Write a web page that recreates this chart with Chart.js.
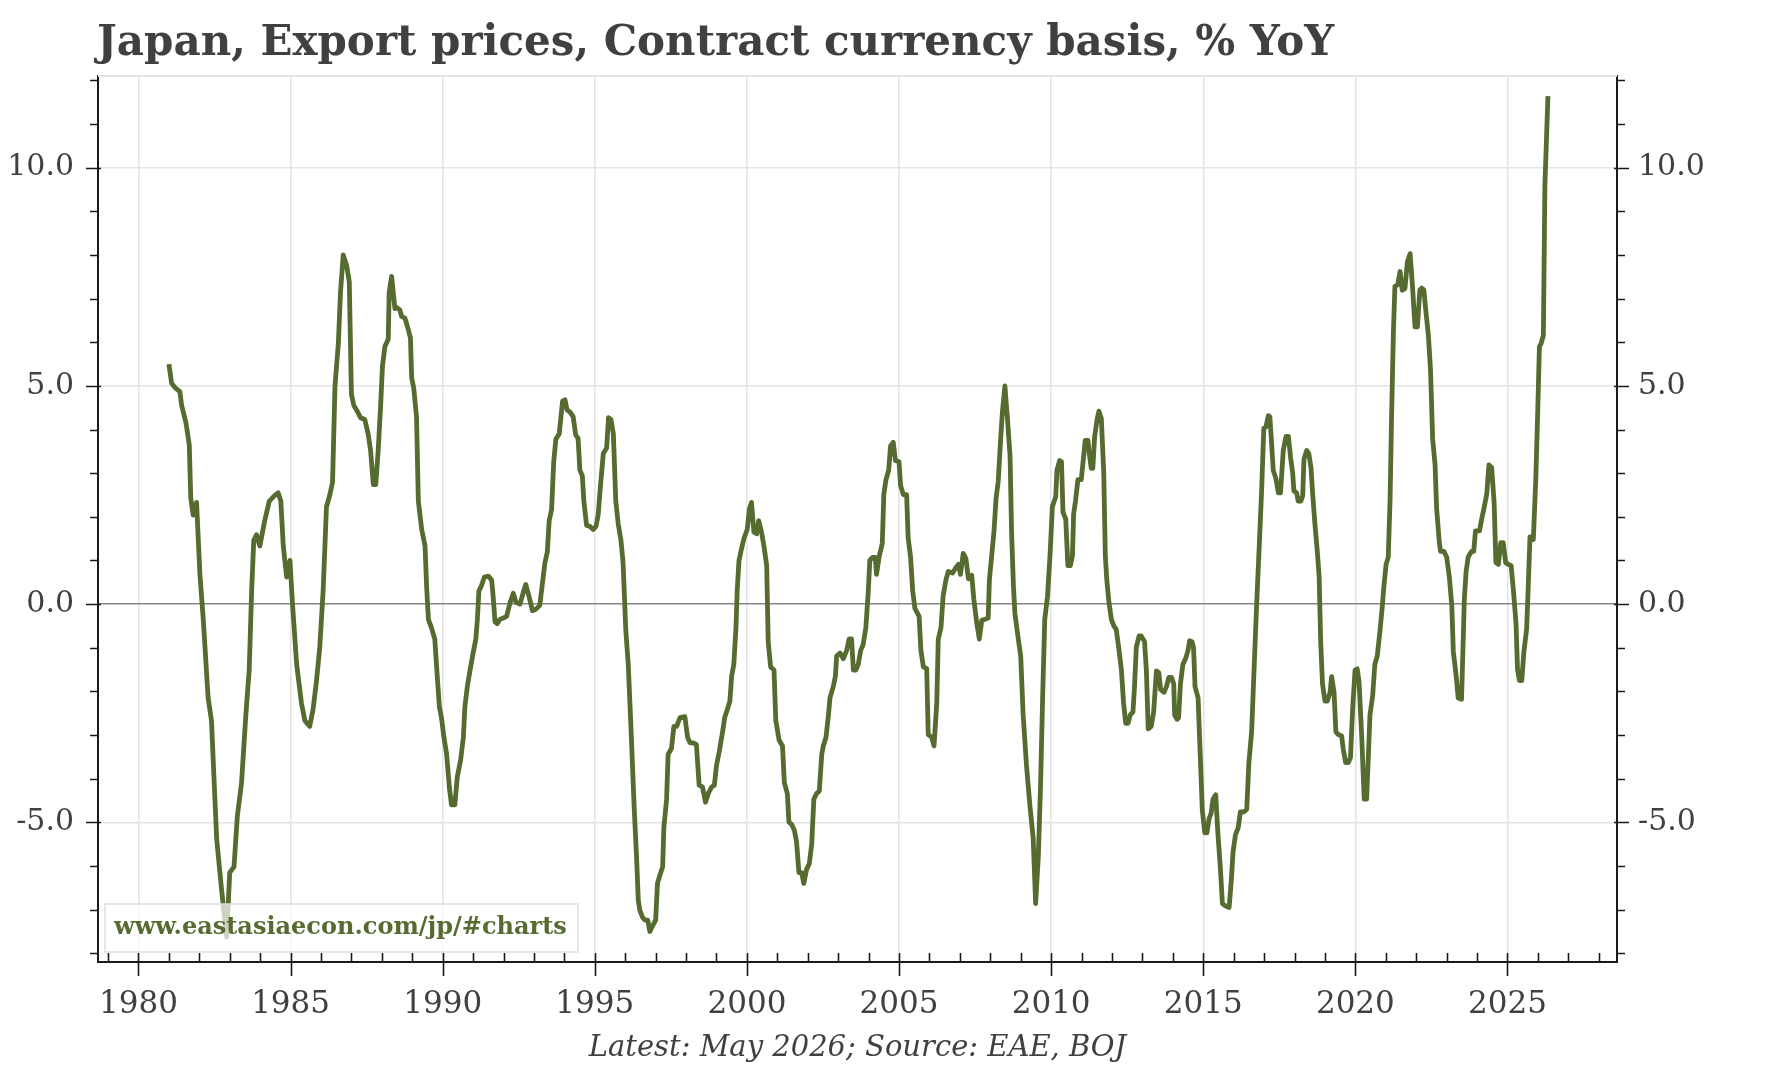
<!DOCTYPE html>
<html>
<head>
<meta charset="utf-8">
<title>Japan, Export prices, Contract currency basis, % YoY</title>
<script src="https://cdn.jsdelivr.net/npm/chart.js@4.4.1/dist/chart.umd.min.js"></script>
<style>
  html, body { margin: 0; padding: 0; background: #fff; overflow: hidden; }
  #wrap { width: 1767px; height: 1070px; position: relative; }
</style>
</head>
<body>
<div id="wrap"><canvas id="chart"></canvas></div>
<script>
'use strict';
var titleText = 'Japan, Export prices, Contract currency basis, % YoY';
var captionText = 'Latest: May 2026; Source: EAE, BOJ';
var watermarkText = 'www.eastasiaecon.com/jp/#charts';

var months = [
  1981.00, 1981.09, 1981.20, 1981.36, 1981.42, 1981.56, 1981.67, 1981.72, 1981.80, 1981.91,
  1982.02, 1982.13, 1982.29, 1982.40, 1982.57, 1982.73, 1982.90, 1983.00, 1983.14, 1983.25,
  1983.39, 1983.53, 1983.64, 1983.72, 1983.79, 1983.88, 1983.99, 1984.15, 1984.30, 1984.48,
  1984.59, 1984.68, 1984.76, 1984.87, 1984.98, 1985.06, 1985.20, 1985.36, 1985.47, 1985.63,
  1985.74, 1985.85, 1985.96, 1986.07, 1986.18, 1986.29, 1986.38, 1986.46, 1986.57, 1986.64,
  1986.73, 1986.84, 1986.93, 1987.00, 1987.08, 1987.19, 1987.30, 1987.44, 1987.55, 1987.63,
  1987.72, 1987.80, 1987.88, 1987.96, 1988.02, 1988.10, 1988.21, 1988.24, 1988.32, 1988.43,
  1988.48, 1988.59, 1988.65, 1988.76, 1988.87, 1988.94, 1988.98, 1989.05, 1989.14, 1989.20,
  1989.31, 1989.42, 1989.47, 1989.53, 1989.63, 1989.74, 1989.82, 1989.89, 1989.96, 1990.04,
  1990.13, 1990.22, 1990.29, 1990.40, 1990.48, 1990.59, 1990.68, 1990.73, 1990.81, 1990.90,
  1991.00, 1991.09, 1991.14, 1991.19, 1991.28, 1991.37, 1991.50, 1991.61, 1991.66, 1991.72,
  1991.79, 1991.88, 1991.99, 1992.10, 1992.21, 1992.32, 1992.41, 1992.54, 1992.65, 1992.73,
  1992.84, 1992.95, 1993.06, 1993.19, 1993.27, 1993.36, 1993.44, 1993.50, 1993.58, 1993.65,
  1993.72, 1993.83, 1993.94, 1994.02, 1994.09, 1994.20, 1994.29, 1994.37, 1994.45, 1994.51,
  1994.59, 1994.64, 1994.73, 1994.84, 1994.95, 1995.04, 1995.11, 1995.19, 1995.28, 1995.39,
  1995.45, 1995.53, 1995.61, 1995.69, 1995.77, 1995.86, 1995.93, 1996.02, 1996.10, 1996.21,
  1996.29, 1996.37, 1996.43, 1996.48, 1996.57, 1996.65, 1996.74, 1996.81, 1996.90, 1997.00,
  1997.06, 1997.14, 1997.23, 1997.27, 1997.36, 1997.41, 1997.52, 1997.60, 1997.69, 1997.80,
  1997.96, 1998.05, 1998.13, 1998.24, 1998.34, 1998.43, 1998.54, 1998.64, 1998.73, 1998.84,
  1998.93, 1999.00, 1999.09, 1999.20, 1999.27, 1999.36, 1999.44, 1999.50, 1999.57, 1999.64,
  1999.68, 1999.74, 1999.82, 1999.91, 2000.01, 2000.08, 2000.15, 2000.23, 2000.32, 2000.39,
  2000.48, 2000.56, 2000.65, 2000.70, 2000.78, 2000.89, 2000.95, 2001.06, 2001.17, 2001.23,
  2001.33, 2001.38, 2001.47, 2001.56, 2001.63, 2001.71, 2001.80, 2001.87, 2001.96, 2002.05,
  2002.13, 2002.20, 2002.29, 2002.38, 2002.46, 2002.51, 2002.60, 2002.68, 2002.73, 2002.84,
  2002.91, 2002.95, 2003.06, 2003.17, 2003.28, 2003.36, 2003.44, 2003.50, 2003.58, 2003.66,
  2003.74, 2003.82, 2003.91, 2003.99, 2004.04, 2004.13, 2004.22, 2004.26, 2004.35, 2004.45,
  2004.50, 2004.57, 2004.66, 2004.72, 2004.81, 2004.88, 2005.00, 2005.05, 2005.14, 2005.25,
  2005.30, 2005.38, 2005.45, 2005.52, 2005.66, 2005.72, 2005.80, 2005.91, 2005.96, 2006.07,
  2006.15, 2006.24, 2006.29, 2006.38, 2006.45, 2006.54, 2006.62, 2006.76, 2006.87, 2006.95,
  2007.02, 2007.11, 2007.20, 2007.28, 2007.39, 2007.46, 2007.55, 2007.64, 2007.72, 2007.82,
  2007.93, 2007.97, 2008.04, 2008.12, 2008.19, 2008.26, 2008.34, 2008.40, 2008.48, 2008.56,
  2008.65, 2008.70, 2008.76, 2008.81, 2008.92, 2009.00, 2009.08, 2009.19, 2009.30, 2009.41,
  2009.49, 2009.58, 2009.65, 2009.72, 2009.79, 2009.88, 2009.97, 2010.04, 2010.15, 2010.19,
  2010.28, 2010.34, 2010.39, 2010.48, 2010.55, 2010.63, 2010.70, 2010.74, 2010.80, 2010.88,
  2010.99, 2011.05, 2011.12, 2011.21, 2011.26, 2011.32, 2011.37, 2011.43, 2011.51, 2011.57,
  2011.65, 2011.73, 2011.78, 2011.83, 2011.90, 2011.98, 2012.06, 2012.14, 2012.22, 2012.31,
  2012.38, 2012.45, 2012.53, 2012.60, 2012.69, 2012.74, 2012.80, 2012.89, 2012.96, 2013.07,
  2013.13, 2013.19, 2013.29, 2013.37, 2013.46, 2013.54, 2013.60, 2013.71, 2013.79, 2013.87,
  2013.96, 2014.03, 2014.06, 2014.14, 2014.19, 2014.25, 2014.33, 2014.42, 2014.50, 2014.55,
  2014.63, 2014.68, 2014.73, 2014.83, 2014.90, 2014.97, 2015.05, 2015.12, 2015.19, 2015.26,
  2015.32, 2015.41, 2015.48, 2015.56, 2015.63, 2015.74, 2015.85, 2015.92, 2015.98, 2016.06,
  2016.15, 2016.22, 2016.34, 2016.43, 2016.50, 2016.59, 2016.67, 2016.75, 2016.84, 2016.92,
  2016.99, 2017.06, 2017.14, 2017.19, 2017.25, 2017.30, 2017.39, 2017.47, 2017.54, 2017.63,
  2017.72, 2017.80, 2017.87, 2017.94, 2017.98, 2018.07, 2018.12, 2018.21, 2018.27, 2018.31,
  2018.40, 2018.47, 2018.54, 2018.60, 2018.67, 2018.75, 2018.81, 2018.86, 2018.92, 2019.00,
  2019.08, 2019.17, 2019.22, 2019.30, 2019.36, 2019.44, 2019.55, 2019.60, 2019.68, 2019.77,
  2019.84, 2019.91, 2019.99, 2020.06, 2020.12, 2020.21, 2020.29, 2020.37, 2020.43, 2020.48,
  2020.57, 2020.64, 2020.72, 2020.81, 2020.88, 2020.94, 2021.01, 2021.08, 2021.14, 2021.19,
  2021.25, 2021.30, 2021.39, 2021.47, 2021.54, 2021.63, 2021.71, 2021.80, 2021.88, 2021.96,
  2022.04, 2022.12, 2022.18, 2022.25, 2022.32, 2022.40, 2022.47, 2022.54, 2022.62, 2022.67,
  2022.76, 2022.80, 2022.91, 2023.00, 2023.09, 2023.17, 2023.22, 2023.31, 2023.38, 2023.49,
  2023.55, 2023.58, 2023.64, 2023.71, 2023.82, 2023.89, 2023.95, 2024.08, 2024.15, 2024.23,
  2024.32, 2024.39, 2024.48, 2024.56, 2024.62, 2024.70, 2024.78, 2024.86, 2024.94, 2025.03,
  2025.12, 2025.19, 2025.28, 2025.33, 2025.39, 2025.47, 2025.54, 2025.63, 2025.68, 2025.74,
  2025.85, 2025.93, 2025.99, 2026.05, 2026.10, 2026.18, 2026.23, 2026.33
];
var yoy = [
  5.50, 5.06, 4.96, 4.87, 4.55, 4.16, 3.65, 2.42, 2.04, 2.33,
  0.68, -0.35, -2.15, -2.67, -5.37, -6.53, -7.63, -6.15, -6.02, -4.86,
  -4.08, -2.54, -1.51, 0.30, 1.46, 1.59, 1.33, 1.91, 2.36, 2.49,
  2.55, 2.36, 1.33, 0.62, 1.00, 0.04, -1.38, -2.28, -2.67, -2.80,
  -2.41, -1.77, -0.99, 0.30, 2.23, 2.50, 2.80, 5.00, 5.97, 7.13,
  8.00, 7.77, 7.38, 4.81, 4.55, 4.42, 4.27, 4.23, 3.90, 3.52,
  2.74, 2.74, 3.52, 4.55, 5.45, 5.90, 6.07, 7.13, 7.51, 6.77,
  6.80, 6.74, 6.59, 6.55, 6.29, 6.10, 5.19, 4.94, 4.29, 2.36,
  1.71, 1.33, 0.43, -0.35, -0.54, -0.80, -1.64, -2.35, -2.60, -3.05,
  -3.44, -4.21, -4.60, -4.60, -3.96, -3.57, -3.05, -2.35, -1.89, -1.51,
  -1.12, -0.80, -0.35, 0.30, 0.43, 0.62, 0.64, 0.55, 0.17, -0.41,
  -0.45, -0.35, -0.32, -0.28, 0.02, 0.25, 0.04, 0.00, 0.27, 0.45,
  0.17, -0.15, -0.12, -0.03, 0.43, 0.94, 1.20, 1.91, 2.17, 3.26,
  3.78, 3.90, 4.65, 4.68, 4.45, 4.39, 4.29, 3.88, 3.80, 3.07,
  2.94, 2.36, 1.80, 1.78, 1.71, 1.78, 2.04, 2.74, 3.45, 3.58,
  4.27, 4.23, 3.90, 2.36, 1.84, 1.46, 0.94, -0.61, -1.38, -3.18,
  -4.60, -5.76, -6.79, -7.02, -7.18, -7.24, -7.24, -7.50, -7.37, -7.24,
  -6.40, -6.21, -6.02, -5.12, -4.47, -3.44, -3.31, -2.80, -2.80, -2.60,
  -2.58, -3.05, -3.18, -3.18, -3.22, -4.15, -4.19, -4.54, -4.34, -4.19,
  -4.15, -3.70, -3.38, -2.93, -2.60, -2.41, -2.22, -1.64, -1.38, -0.54,
  0.30, 1.00, 1.26, 1.52, 1.71, 2.17, 2.33, 1.65, 1.61, 1.91,
  1.65, 1.33, 0.88, -0.86, -1.44, -1.51, -2.67, -3.12, -3.25, -4.09,
  -4.34, -4.99, -5.05, -5.18, -5.44, -6.15, -6.15, -6.40, -6.08, -5.95,
  -5.50, -4.47, -4.34, -4.28, -3.44, -3.25, -3.05, -2.54, -2.15, -1.89,
  -1.64, -1.19, -1.12, -1.25, -1.06, -0.80, -0.80, -1.51, -1.51, -1.38,
  -1.06, -0.93, -0.54, 0.30, 1.00, 1.07, 1.07, 0.68, 1.10, 1.39,
  2.51, 2.85, 3.07, 3.62, 3.71, 3.29, 3.26, 2.72, 2.51, 2.51,
  1.52, 1.07, 0.30, -0.09, -0.28, -1.06, -1.44, -1.48, -2.99, -3.05,
  -3.25, -2.28, -0.80, -0.54, 0.19, 0.55, 0.75, 0.71, 0.84, 0.91,
  0.68, 1.16, 1.04, 0.58, 0.66, 0.10, -0.41, -0.80, -0.37, -0.35,
  -0.32, 0.55, 1.07, 1.65, 2.42, 2.81, 3.78, 4.42, 5.00, 4.29,
  3.39, 1.65, 0.43, -0.22, -0.80, -1.19, -2.54, -3.70, -4.60, -5.37,
  -6.86, -5.76, -4.21, -2.15, -0.35, 0.17, 1.20, 2.23, 2.46, 3.07,
  3.29, 3.26, 2.10, 1.95, 0.88, 0.88, 1.10, 2.07, 2.36, 2.85,
  2.85, 3.26, 3.75, 3.75, 3.41, 3.11, 3.11, 3.84, 4.23, 4.42,
  4.25, 3.00, 1.13, 0.55, 0.04, -0.35, -0.50, -0.58, -0.99, -1.51,
  -2.26, -2.73, -2.73, -2.54, -2.47, -1.89, -0.99, -0.73, -0.73, -0.86,
  -1.51, -2.86, -2.80, -2.47, -1.53, -1.57, -1.96, -2.02, -1.89, -1.68,
  -1.68, -1.83, -2.54, -2.64, -2.60, -1.83, -1.38, -1.25, -1.06, -0.84,
  -0.86, -0.99, -1.89, -2.15, -3.44, -4.73, -5.24, -5.24, -4.92, -4.79,
  -4.47, -4.37, -5.24, -6.02, -6.86, -6.92, -6.95, -6.35, -5.67, -5.28,
  -5.12, -4.76, -4.76, -4.70, -3.63, -2.93, -1.51, -0.09, 1.33, 2.62,
  4.03, 4.06, 4.32, 4.29, 3.65, 3.07, 2.87, 2.55, 2.55, 3.52,
  3.84, 3.84, 3.36, 3.00, 2.59, 2.55, 2.36, 2.36, 2.49, 3.32,
  3.52, 3.45, 3.13, 2.49, 1.84, 1.20, 0.62, -0.86, -1.83, -2.22,
  -2.22, -2.02, -1.66, -2.02, -2.93, -2.99, -3.02, -3.31, -3.63, -3.63,
  -3.51, -2.41, -1.51, -1.48, -1.77, -3.05, -4.47, -4.47, -3.44, -2.54,
  -2.09, -1.38, -1.19, -0.61, -0.09, 0.43, 0.91, 1.07, 2.36, 4.29,
  6.22, 7.28, 7.32, 7.62, 7.19, 7.23, 7.84, 8.03, 7.26, 6.35,
  6.35, 7.20, 7.24, 7.20, 6.69, 6.16, 5.37, 3.79, 3.19, 2.20,
  1.41, 1.21, 1.21, 1.08, 0.62, -0.04, -1.09, -1.62, -2.15, -2.18,
  -0.70, 0.09, 0.75, 1.08, 1.21, 1.21, 1.68, 1.68, 1.94, 2.20,
  2.53, 3.19, 3.13, 2.34, 0.95, 0.91, 1.41, 1.41, 0.95, 0.91,
  0.88, 0.36, -0.44, -1.49, -1.75, -1.75, -1.09, -0.57, 0.36, 1.54,
  1.48, 2.86, 4.31, 5.90, 5.96, 6.16, 9.59, 11.64
];
var yearTicks = [1980, 1985, 1990, 1995, 2000, 2005, 2010, 2015, 2020, 2025];
var valueTicks = [-5, 0, 5, 10];

var ink = '#404040';
var lineGreen = '#556b2f';
var gridGrey = '#e4e4e4';
var serif = '"DejaVu Serif", "Liberation Serif", serif';

function setTicks(list) {
  return function (scale) {
    scale.ticks = list.map(function (v) { return { value: v }; });
  };
}

// tick marks, frame top, title, caption and watermark
var decorations = {
  id: 'decorations',
  afterDatasetsDraw: function (chart) {
    var ctx = chart.ctx;
    var a = chart.chartArea;
    ctx.save();
    var bx = a.left + 7, by = a.bottom - 58, bw = 473, bh = 48;
    ctx.fillStyle = 'rgba(255,255,255,0.7)';
    ctx.fillRect(bx, by, bw, bh);
    ctx.strokeStyle = '#dedede';
    ctx.lineWidth = 1.5;
    ctx.strokeRect(bx, by, bw, bh);
    ctx.fillStyle = lineGreen;
    ctx.font = 'bold 24px ' + serif;
    ctx.textBaseline = 'middle';
    ctx.textAlign = 'left';
    ctx.fillText(watermarkText, bx + 9, by + bh / 2);
    ctx.restore();
  },
  afterDraw: function (chart) {
    var ctx = chart.ctx;
    var a = chart.chartArea;
    var x = chart.scales.x;
    var y = chart.scales.y;
    ctx.save();
    // light top frame
    ctx.strokeStyle = gridGrey;
    ctx.lineWidth = 2;
    ctx.beginPath();
    ctx.moveTo(a.left, a.top);
    ctx.lineTo(a.right, a.top);
    ctx.stroke();
    // tick marks
    ctx.strokeStyle = '#1a1a1a';
    ctx.lineWidth = 1.6;
    ctx.beginPath();
    for (var v = -8; v <= 12; v++) {
      var py = Math.round(y.getPixelForValue(v)) + 0.5;
      var major = v % 5 === 0;
      ctx.moveTo(a.left - (major ? 12 : 8), py);
      ctx.lineTo(a.left + (major ? 3 : 0), py);
      ctx.moveTo(a.right + (major ? 12 : 8), py);
      ctx.lineTo(a.right - (major ? 3 : 0), py);
    }
    for (var yr = 1979; yr <= 2028; yr++) {
      var px = Math.round(x.getPixelForValue(yr)) + 0.5;
      var big = yr % 5 === 0;
      ctx.moveTo(px, a.bottom - 9);
      ctx.lineTo(px, a.bottom + (big ? 14 : 0));
    }
    ctx.stroke();
    // title
    ctx.fillStyle = ink;
    ctx.textAlign = 'left';
    ctx.textBaseline = 'alphabetic';
    ctx.font = 'bold 42px ' + serif;
    ctx.fillText(titleText, 97, 55);
    // caption
    ctx.font = 'italic 29px ' + serif;
    ctx.textAlign = 'center';
    ctx.textBaseline = 'middle';
    ctx.fillText(captionText, (a.left + a.right) / 2, 1048);
    ctx.restore();
  }
};

var points = months.map(function (m, i) { return { x: m, y: yoy[i] }; });

new Chart(document.getElementById('chart'), {
  type: 'line',
  data: {
    datasets: [{
      label: 'Export prices, contract currency, % YoY',
      data: points,
      borderColor: lineGreen,
      borderWidth: 4.8,
      borderJoinStyle: 'round',
      pointRadius: 0,
      tension: 0,
      fill: false
    }]
  },
  options: {
    responsive: true,
    maintainAspectRatio: false,
    animation: false,
    devicePixelRatio: 1,
    layout: { padding: { top: 76, left: 0, right: 0, bottom: 0 } },
    plugins: { legend: { display: false }, title: { display: false }, tooltip: { enabled: false } },
    scales: {
      x: {
        type: 'linear',
        min: 1978.67,
        max: 2028.6,
        afterBuildTicks: setTicks(yearTicks),
        afterFit: function (s) { s.height = 108; },
        grid: { color: gridGrey, lineWidth: 1.5, drawTicks: false },
        border: { color: '#1a1a1a', width: 2 },
        ticks: {
          autoSkip: false, maxRotation: 0, padding: 24, color: ink,
          font: { family: serif, size: 31 },
          callback: function (v) { return String(v); }
        }
      },
      y: {
        type: 'linear',
        position: 'left',
        min: -8.2,
        max: 12.1,
        afterBuildTicks: setTicks(valueTicks),
        afterFit: function (s) { s.width = 98; },
        grid: {
          drawTicks: false, lineWidth: 1.5,
          color: function (c) { return c.tick && c.tick.value === 0 ? '#858585' : gridGrey; }
        },
        border: { color: '#1a1a1a', width: 2 },
        ticks: {
          padding: 24, color: ink, font: { family: serif, size: 30 },
          callback: function (v) { return v.toFixed(1); }
        }
      },
      y2: {
        type: 'linear',
        position: 'right',
        min: -8.2,
        max: 12.1,
        afterBuildTicks: setTicks(valueTicks),
        afterFit: function (s) { s.width = 150; },
        grid: { display: false, drawTicks: false },
        border: { color: '#1a1a1a', width: 2 },
        ticks: {
          padding: 21, color: ink, font: { family: serif, size: 30 },
          callback: function (v) { return v.toFixed(1); }
        }
      }
    }
  },
  plugins: [decorations]
});
</script>
</body>
</html>
